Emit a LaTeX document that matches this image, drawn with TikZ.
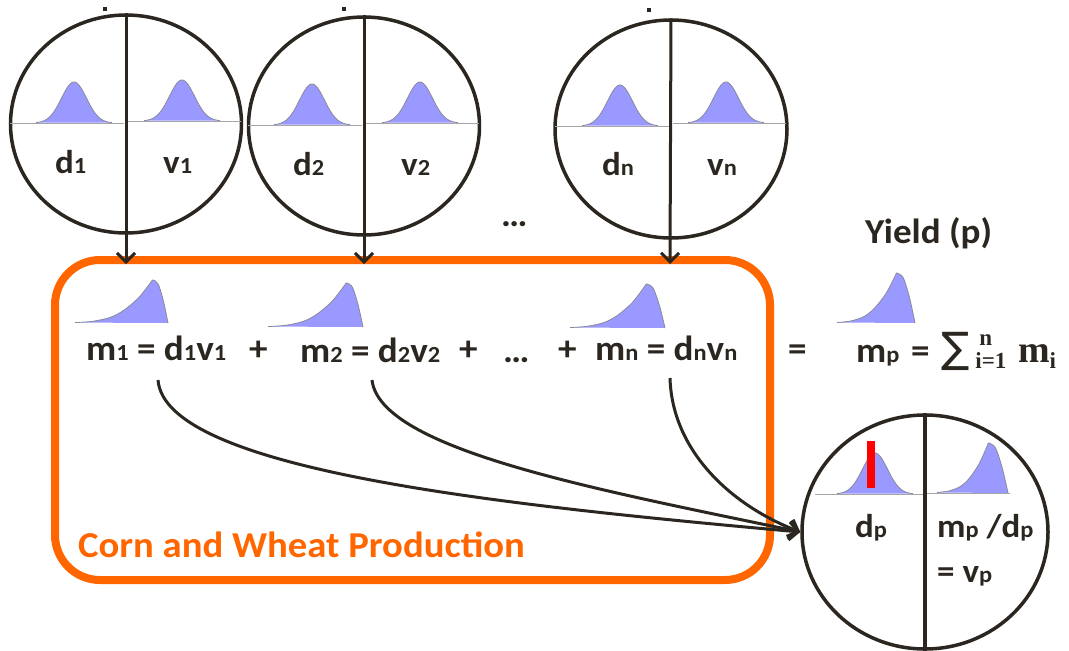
\documentclass[tikz,border=0pt]{standalone}
\usepackage{fontspec}
\setmainfont{Carlito}[FakeStretch=1.06]
\newfontfamily\serifb{Liberation Serif}
\newfontfamily\sumfont{DejaVu Sans}
\usetikzlibrary{shapes.geometric,arrows.meta}
\definecolor{ink}{HTML}{2B2720}
\definecolor{orng}{HTML}{FF6600}
\definecolor{bellc}{HTML}{9999FF}
\definecolor{bedge}{HTML}{8A8A9A}
\newcommand\smsub[1]{{\fontsize{23}{23}\selectfont #1}}
\newcommand\smsubc[1]{{\fontsize{23}{23}\selectfont #1}}
\newcommand\bellat[3]{%
  \fill[bellc] plot[domain=-38:38,samples=60,smooth] ({#1+\x},{#2-#3*exp(-((\x/12.5)^2)/2)}) -- cycle;
  \draw[bedge,line width=0.8pt] plot[domain=-38:38,samples=60,smooth] ({#1+\x},{#2-#3*exp(-((\x/12.5)^2)/2)});}
% x0, baseline, width, height, peak fraction
\newcommand\skewat[5]{%
  \begin{scope}[shift={(#1,#2)},xscale=#3,yscale=-#4]
  \fill[bellc] plot[smooth,tension=0.5] coordinates {(0,0.01) ({#5*0.23},0.04) ({#5*0.45},0.13) ({#5*0.62},0.29) ({#5*0.8},0.56) ({#5*0.91},0.8) ({#5*0.98},0.97) (#5,1) ({#5+(1-#5)*0.35},0.9) ({#5+(1-#5)*0.7},0.5) (1,0)} -- cycle;
  \draw[bedge,line width=0.8pt] plot[smooth,tension=0.5] coordinates {(0,0.01) ({#5*0.23},0.04) ({#5*0.45},0.13) ({#5*0.62},0.29) ({#5*0.8},0.56) ({#5*0.91},0.8) ({#5*0.98},0.97) (#5,1) ({#5+(1-#5)*0.35},0.9) ({#5+(1-#5)*0.7},0.5) (1,0)};
  \end{scope}}
\tikzset{
  circ/.style={ellipse,draw=ink,line width=3.5pt,inner sep=0pt},
  lab/.style={anchor=base west,inner sep=0pt,text=ink,font=\fontsize{35}{35}\selectfont\bfseries},
  clab/.style={lab,font=\fontsize{33}{33}\selectfont\bfseries},
  orlab/.style={anchor=base west,inner sep=0pt,text=orng,font=\fontsize{36.5}{36.5}\selectfont\bfseries},
  conn/.style={draw=ink,line width=3pt,-{Straight Barb[length=9pt,width=18pt,line width=3pt]}},
  basel/.style={draw=gray!70,line width=0.9pt},
}
\begin{document}
\begin{tikzpicture}[x=1pt,y=-1pt]
\useasboundingbox (0,0) rectangle (1069,651);
% orange box
\draw[orng,line width=8pt,rounded corners=45pt] (55,260) rectangle (770,580);
\node[orlab] (title) at (78,557) {Corn and Wheat Production};
% top circles
\node[circ,minimum width=231pt,minimum height=218pt] (c1) at (126,124) {};
\node[circ,minimum width=231pt,minimum height=218pt] (c2) at (364,126) {};
\node[circ,minimum width=232pt,minimum height=218pt] (cn) at (671,129) {};
% baselines
\draw[basel] (10,123) -- (124,123) (128,121) -- (241,121);
\draw[basel] (248,125) -- (362,125) (366,123) -- (479,123);
\draw[basel] (555,126) -- (669,126) (673,123) -- (786,123);
\bellat{74}{123}{41}\bellat{182}{121}{41}
\bellat{312}{125}{41}\bellat{420}{123}{41}
\bellat{620}{126}{41}\bellat{726}{123}{41}
% top dots
\fill[ink] (103,7) rectangle (107,11);
\fill[ink] (342,7) rectangle (346,11);
\fill[ink] (647,8) rectangle (651,12);
% circle labels
\node[clab] (d1) at (55,173) {d\smsubc{1}};
\node[clab] (v1) at (163,173) {v\smsubc{1}};
\node[clab] (d2) at (293,175) {d\smsubc{2}};
\node[clab] (v2) at (401,175) {v\smsubc{2}};
\node[clab] (dn) at (602,175) {d\smsubc{n}};
\node[clab] (vn) at (707,175) {v\smsubc{n}};
\node[lab] (dots1) at (501,226) {…};
\node[lab] (yield) at (865,243) {Yield (p)};
% arrows down
\coordinate (a1) at (126,264);
\coordinate (a2) at (364,264);
\coordinate (an) at (670,264);
\draw[conn] (c1.north) -- (a1);
\draw[conn] (c2.north) -- (a2);
\draw[conn] (cn.north) -- (an);
% skewed distributions
\skewat{75}{323}{93}{43}{0.84}
\skewat{268}{327}{95}{44}{0.83}
\skewat{570}{328}{95}{44}{0.81}
\skewat{837}{323}{78}{50}{0.77}
% formulas
\node[lab] (m1) at (86,360) {m\smsub{1} = d\smsub{1}v\smsub{1}};
\node[lab] (p1) at (249,360) {+};
\node[lab] (m2) at (300,362) {m\smsub{2} = d\smsub{2}v\smsub{2}};
\node[lab] (p2) at (459,360) {+};
\node[lab] (dots2) at (503,362) {…};
\node[lab] (p3) at (558,360) {+};
\node[lab] (mn) at (595,360) {m\smsub{n} = d\smsub{n}v\smsub{n}};
\node[lab] (eq) at (788,360) {=};
\node[lab] (mp) at (856,362) {m\smsub{p}\,\,=\,\,{\sumfont\fontsize{42}{42}\selectfont\mdseries ∑}\,\rlap{\raisebox{17pt}{\serifb\fontsize{23}{23}\selectfont \,n}}\raisebox{-6pt}{\serifb\fontsize{23}{23}\selectfont i=1}\,\,{\serifb\fontsize{38}{38}\selectfont m\raisebox{-6pt}{\fontsize{23}{23}\selectfont i}}};
% result circle
\node[circ,minimum width=246pt,minimum height=234pt] (cp) at (925,532) {};
\draw[ink,line width=3.5pt] (cp.north) -- (cp.south);
\draw[basel] (815,494) -- (923,494) (927,493) -- (1010,493);
\bellat{875}{494}{41}
\skewat{937}{493}{71}{50}{0.73}
\fill[red] (867,441) rectangle (875,488);
\node[clab] (dp) at (855,537) {d\smsubc{p}};
\node[clab] (mpdp) at (937,537) {m\smsubc{p} /d\smsubc{p}};
\node[clab] (vp) at (937,582) {= v\smsubc{p}};
% curves
\coordinate (s1) at (158,380);
\coordinate (s2) at (372,380);
\coordinate (sn) at (670,378);
\draw[conn] (s1) .. controls (165,470) and (500,505) .. (cp.west);
\draw[conn] (s2) .. controls (380,450) and (600,490) .. (cp.west);
\draw[conn] (sn) .. controls (672,450) and (730,505) .. (cp.west);
\end{tikzpicture}
\end{document}
